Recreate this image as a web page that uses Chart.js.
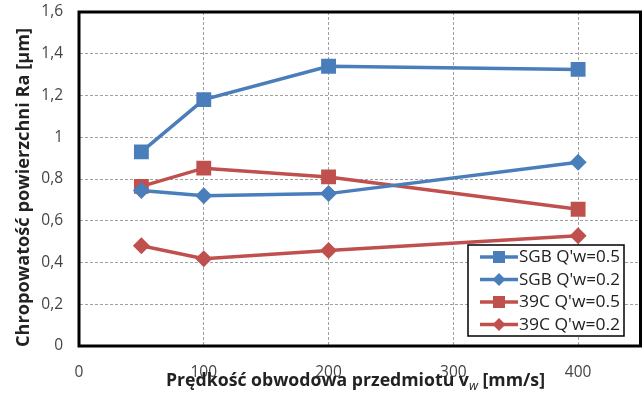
<!DOCTYPE html>
<html><head><meta charset="utf-8">
<script src="https://cdn.jsdelivr.net/npm/chart.js@4.4.1/dist/chart.umd.min.js"></script>
<style>html,body{margin:0;padding:0;background:#fff;overflow:hidden}#wrap{width:644px;height:407px;overflow:hidden}</style>
</head><body><div id="wrap"><canvas id="c" width="651" height="407"></canvas></div>
<script>
const speeds = [50, 100, 200, 400];
const sgb05 = [0.93, 1.18, 1.34, 1.325];
const sgb02 = [0.745, 0.72, 0.73, 0.88];
const c39_05 = [0.765, 0.852, 0.81, 0.655];
const c39_02 = [0.48, 0.418, 0.458, 0.528];
const seriesLabels = ["SGB Q'w=0.5", "SGB Q'w=0.2", "39C Q'w=0.5", "39C Q'w=0.2"];
const yTitle = "Chropowatość powierzchni Ra [µm]";
const xTitleParts = ["Prędkość obwodowa przedmiotu v", "w", " [mm/s]"];

const BLUE = '#4a7ebb', RED = '#c0504d';
const FONT = '"Open Sans", Lato, sans-serif';
function mk(label, data, color, style, r) {
  return {label, data: speeds.map((x,i)=>({x, y:data[i]})), borderColor: color, backgroundColor: color,
    borderWidth: 3.5, pointStyle: style, pointRadius: r, pointHoverRadius: r, pointBorderWidth: 0, tension: 0};
}
const datasets = [
  mk(seriesLabels[0], sgb05, BLUE, 'rect', 10.5),
  mk(seriesLabels[1], sgb02, BLUE, 'rectRot', 8.5),
  mk(seriesLabels[2], c39_05, RED, 'rect', 10.5),
  mk(seriesLabels[3], c39_02, RED, 'rectRot', 8.5)
];

const framePlugin = {
  id: 'frame',
  afterDraw(chart) {
    const {ctx, chartArea: a} = chart;
    ctx.save();
    ctx.strokeStyle = '#000'; ctx.lineWidth = 3;
    ctx.strokeRect(a.left, a.top, a.right - a.left, a.bottom - a.top);
    // legend
    const lx = 468, ly = 245, lw = 156, lh = 91;
    ctx.fillStyle = '#fff'; ctx.fillRect(lx, ly, lw, lh);
    ctx.strokeStyle = '#000'; ctx.lineWidth = 1.5; ctx.strokeRect(lx, ly, lw, lh);
    ctx.font = '15.5px ' + FONT; ctx.textBaseline = 'middle'; ctx.textAlign = 'left';
    chart.data.datasets.forEach((ds, i) => {
      const y = ly + 12 + i * 22.5;
      ctx.strokeStyle = ds.borderColor; ctx.lineWidth = 3.5;
      ctx.beginPath(); ctx.moveTo(lx + 12, y); ctx.lineTo(lx + 50, y); ctx.stroke();
      ctx.fillStyle = ds.borderColor;
      const cx = lx + 31;
      if (ds.pointStyle === 'rect') { ctx.fillRect(cx - 6, y - 6, 12, 12); }
      else { ctx.beginPath(); ctx.moveTo(cx, y - 6.5); ctx.lineTo(cx + 6.5, y); ctx.lineTo(cx, y + 6.5); ctx.lineTo(cx - 6.5, y); ctx.closePath(); ctx.fill(); }
      ctx.fillStyle = '#222';
      const tw = ctx.measureText(ds.label).width;
      ctx.save(); ctx.translate(lx + 51, y + 1); ctx.scale(101 / tw, 1);
      ctx.fillText(ds.label, 0, 0); ctx.restore();
    });
    // y title
    ctx.save();
    ctx.font = 'bold 17.5px ' + FONT; ctx.textAlign = 'center'; ctx.fillStyle = '#222';
    const yw = ctx.measureText(yTitle).width;
    ctx.translate(24, 187.5);
    ctx.rotate(-Math.PI / 2);
    ctx.scale(319 / yw, 1);
    ctx.fillText(yTitle, 0, 0);
    ctx.restore();
    // x title with subscript
    ctx.save();
    ctx.font = 'bold 17.5px ' + FONT;
    const w1 = ctx.measureText(xTitleParts[0]).width;
    ctx.font = 'italic 12.5px ' + FONT;
    const w2 = ctx.measureText(xTitleParts[1]).width;
    ctx.font = 'bold 17.5px ' + FONT;
    const w3 = ctx.measureText(xTitleParts[2]).width;
    const tot = w1 + w2 + w3;
    const k = 379 / tot;
    ctx.translate(355.5 - 379 / 2, 381);
    ctx.scale(k, 1);
    let x = 0;
    ctx.fillStyle = '#222'; ctx.textAlign = 'left';
    ctx.fillText(xTitleParts[0], x, 0); x += w1;
    ctx.font = 'italic 12.5px ' + FONT; ctx.fillText(xTitleParts[1], x, 5); x += w2;
    ctx.font = 'bold 17.5px ' + FONT; ctx.fillText(xTitleParts[2], x, 0);
    ctx.restore();
    ctx.restore();
  }
};

new Chart(document.getElementById('c'), {
  type: 'line',
  data: { datasets },
  options: {
    responsive: false, animation: false,
    layout: { padding: { top: 12, right: 3, left: 0, bottom: 0 } },
    plugins: { legend: { display: false }, tooltip: { enabled: false } },
    scales: {
      x: {
        type: 'linear', min: 0, max: 450,
        afterBuildTicks(s) { s.ticks = s.ticks.filter(t => t.value % 100 === 0); },
        afterFit(s) { s.height = 61; s.paddingRight = 0; s.paddingLeft = 0; },
        ticks: { stepSize: 100, color: '#444', font: { size: 15.5, family: FONT }, padding: 17, maxRotation: 0 },
        grid: { color: '#a0a0a0', drawTicks: false, tickLength: 0, lineWidth: 1 },
        border: { display: true, dash: [3, 2], color: '#000' }
      },
      y: {
        min: 0, max: 1.6,
        afterFit(s) { s.width = 79; s.paddingTop = 0; s.paddingBottom = 0; },
        ticks: { stepSize: 0.2, color: '#444', font: { size: 15.5, family: FONT }, padding: 16,
          callback: v => String(Math.round(v * 10) / 10).replace('.', ',') },
        grid: { color: '#a0a0a0', drawTicks: false, tickLength: 0, lineWidth: 1 },
        border: { display: true, dash: [3, 2], color: '#000' }
      }
    }
  },
  plugins: [framePlugin]
});
</script></body></html>
